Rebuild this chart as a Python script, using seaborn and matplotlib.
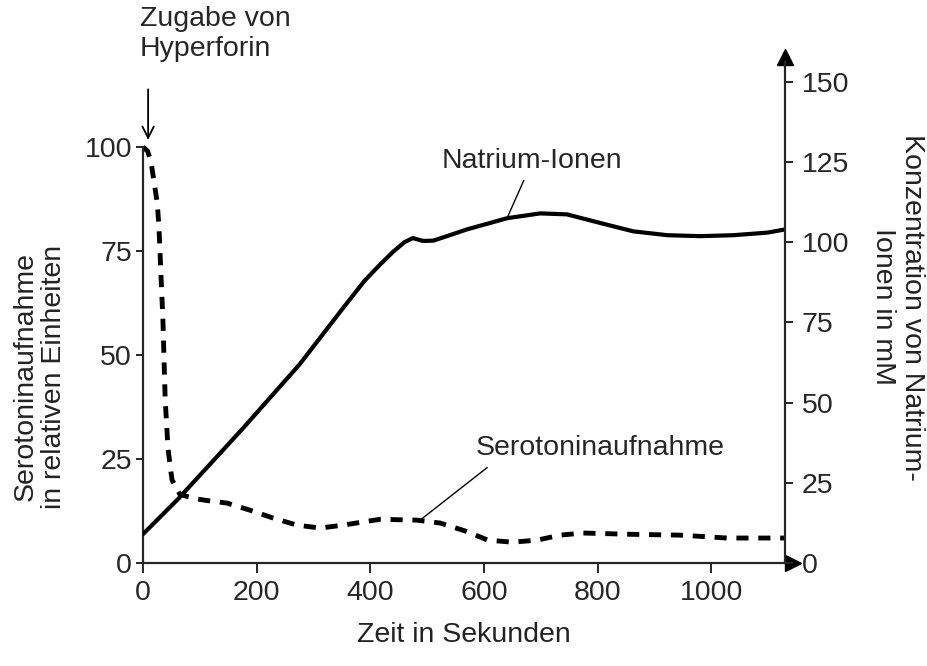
import matplotlib
matplotlib.use("Agg")
import matplotlib.pyplot as plt
import seaborn as sns

# Zeit in Sekunden
zeit_serotonin = [0, 8, 14, 19, 25, 28, 30, 32, 35, 39, 44, 51, 65, 90, 113, 148, 188, 229, 271,
                  312, 352, 417, 482, 523, 567, 607, 650, 694, 734, 775, 857, 945, 1028, 1116, 1130]
# Serotoninaufnahme in relativen Einheiten
serotonin = [100, 99, 96.5, 92, 86.6, 81, 74.6, 68, 58.6, 39.5, 27.5, 20, 16.5, 15.5, 15, 14.4, 12.7,
             10.8, 9.1, 8.4, 9.1, 10.5, 10.3, 9.6, 7.7, 5.5, 5.0, 5.5, 6.7, 7.2, 6.9, 6.7, 6.0, 6.0, 6.0]

zeit_natrium = [0, 62, 176, 276, 350, 390, 417, 440, 460, 475, 493, 511, 540, 570, 641, 699, 746,
                805, 863, 923, 981, 1039, 1099, 1130]
# Konzentration Natrium-Ionen in mM
natrium = [9, 20, 42, 62, 79, 88, 93, 97, 100, 101.3, 100.4, 100.5, 102.2, 104, 107.5, 109, 108.7,
           106, 103.4, 102.2, 101.9, 102.2, 103, 104]

left_ticks = [0, 25, 50, 75, 100]
right_ticks = [0, 25, 50, 75, 100, 125, 150]
x_ticks = [0, 200, 400, 600, 800, 1000]

sns.set_style("white")
plt.rcParams["font.family"] = ["Liberation Sans", "DejaVu Sans"]
plt.rcParams["font.size"] = 20.5

fig = plt.figure(figsize=(9.28, 6.66), dpi=100)
ax = fig.add_axes([143 / 928, (666 - 563) / 666, 642 / 928, 501 / 666])
ax2 = ax.twinx()

sns.lineplot(x=zeit_serotonin, y=serotonin, ax=ax, color="black", lw=3.5, sort=False)
ax.lines[-1].set_dashes((2.5, 2.0))
sns.lineplot(x=zeit_natrium, y=natrium, ax=ax2, color="black", lw=3.0, sort=False)

ax.set_xlim(0, 1130)
ax.set_ylim(0, 120.4)
ax2.set_ylim(0, 156.2)
ax.set_xticks(x_ticks)
ax.set_yticks(left_ticks)
ax2.set_yticks(right_ticks)

for a in (ax, ax2):
    a.spines["top"].set_visible(False)
    for s in a.spines.values():
        s.set_linewidth(1.6)
ax.spines["right"].set_visible(False)
ax2.spines["left"].set_visible(False)
ax2.spines["bottom"].set_visible(False)
ax.spines["left"].set_bounds(0, 100)

ax.tick_params(axis="y", direction="out", length=5, width=1.4, pad=3, labelsize=20.5, left=True)
ax.tick_params(axis="x", direction="out", length=7, width=1.4, pad=5, labelsize=20.5, bottom=True)
ax2.tick_params(axis="y", direction="out", length=6, width=1.4, pad=6, labelsize=20.5, right=True)
ax.set_xlabel("")
ax.set_ylabel("")
ax2.set_ylabel("")

# arrow heads on the axes
ax.plot(1.012, 0, ">k", ms=11, transform=ax.transAxes, clip_on=False)
ax2.plot(1, 1.01, "^k", ms=11, transform=ax2.transAxes, clip_on=False)

# axis labels
fig.text(40 / 928, 1 - 377 / 666, "Serotoninaufnahme\nin relativen Einheiten",
         rotation=90, ha="center", va="center", color="#222222", linespacing=1.15)
fig.text(898 / 928, 1 - 307 / 666, "Konzentration von Natrium-\nIonen in mM",
         rotation=-90, ha="center", va="center", color="#222222", linespacing=1.15)
fig.text(464 / 928, 1 - 635 / 666, "Zeit in Sekunden", ha="center", va="center", color="#222222")

# Hyperforin
fig.text(140 / 928, 1 - 6 / 666, "Zugabe von\nHyperforin", ha="left", va="top", linespacing=1.2)
ax.annotate("", xy=(9, 101), xytext=(9, 114.5),
            arrowprops=dict(arrowstyle="->", lw=1.3, color="black"), annotation_clip=False)

# curve labels
ax2.annotate("Natrium-Ionen", xy=(641, 107.6), xytext=(685, 123), ha="center", va="baseline",
             arrowprops=dict(arrowstyle="-", lw=1.0, color="black", shrinkA=2, shrinkB=0))
ax.annotate("Serotoninaufnahme", xy=(484, 9.9), xytext=(805, 26), ha="center", va="baseline",
            arrowprops=dict(arrowstyle="-", lw=1.0, color="black", relpos=(0.08, 0), shrinkA=4, shrinkB=0))

fig.savefig("out.png", dpi=100)
